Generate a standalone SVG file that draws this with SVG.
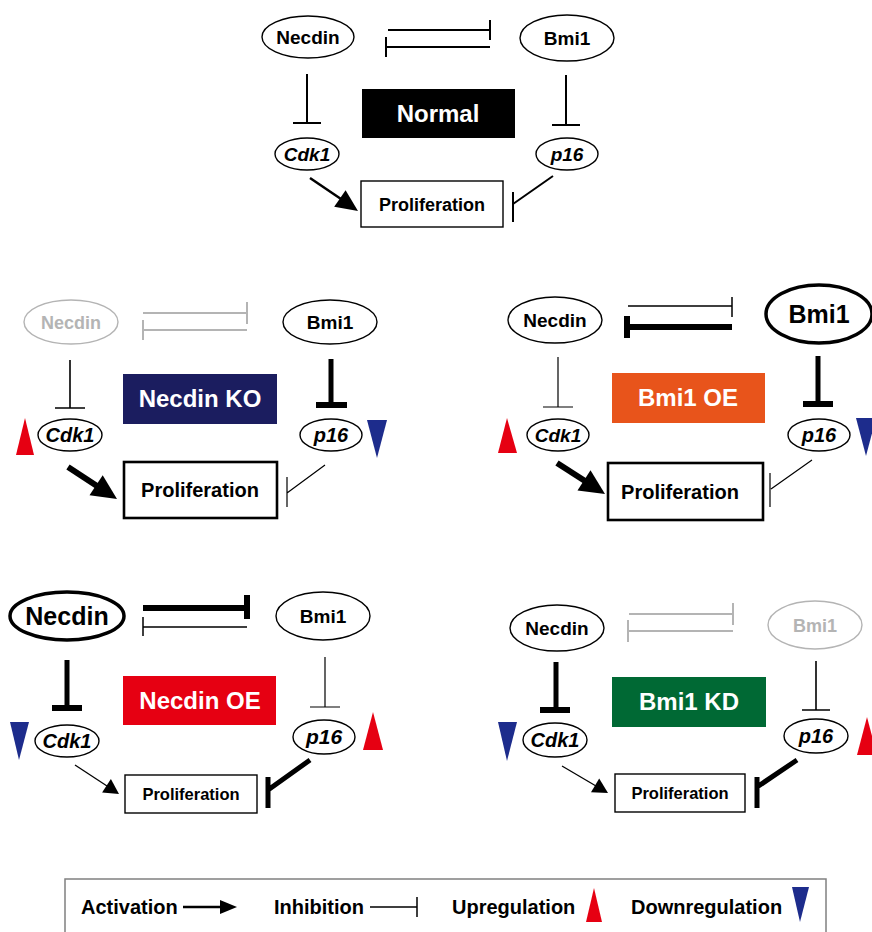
<svg xmlns="http://www.w3.org/2000/svg" width="872" height="932" viewBox="0 0 872 932">
<style>
text{font-family:"Liberation Sans",Arial,Helvetica,sans-serif;font-weight:bold;text-anchor:middle;fill:#000}
.n ellipse{fill:#fff;stroke:#000;stroke-width:1.4}
.n.big ellipse{stroke-width:3.5}
.n.grey ellipse{stroke:#b4b4b4}
.n.grey text{fill:#b4b4b4}
.gene text{font-style:italic}
.p rect{fill:#fff;stroke:#000;stroke-width:1.4}
.p.big rect{stroke-width:2.6}
.lab text{fill:#fff;font-size:24px}
.l{stroke:#000;fill:none;stroke-linecap:butt}
.w2{stroke-width:2}
.w1{stroke-width:1.2}
.w5{stroke-width:5}
.w6{stroke-width:6}
.g{stroke:#b4b4b4;stroke-width:2}
.ah{fill:#000}
.up{fill:#e60012}
.down{fill:#1d2c8c}
</style>

<!-- ================= NORMAL ================= -->
<g id="normal-necdin" class="n"><ellipse cx="308" cy="37" rx="46" ry="21"/><text x="308" y="44" font-size="19">Necdin</text></g>
<g id="normal-bmi1" class="n"><ellipse cx="567" cy="38" rx="47" ry="23"/><text x="567" y="45" font-size="19">Bmi1</text></g>
<g id="normal-label" class="lab"><rect x="362" y="89" width="153" height="49" fill="#000"/><text x="438" y="122">Normal</text></g>
<g id="normal-cdk1" class="n gene"><ellipse cx="307" cy="154" rx="32" ry="16"/><text x="307" y="161" font-size="19">Cdk1</text></g>
<g id="normal-p16" class="n gene"><ellipse cx="567" cy="154" rx="31" ry="16"/><text x="567" y="161" font-size="19">p16</text></g>
<g id="normal-prolif" class="p"><rect x="361" y="181" width="142" height="46"/><text x="432" y="211" font-size="18">Proliferation</text></g>
<g id="normal-connectors">
<path class="l w2" d="M388 30H490M490 20V40"/>
<path class="l w2" d="M490 47H386M386 37V57"/>
<path class="l w2" d="M307 74V123M293 123H321"/>
<path class="l w2" d="M566 75V125M552 125H580"/>
<path class="l" stroke-width="2.5" d="M310 178L341 199"/>
<polygon class="ah" points="358,211 334.2,206.7 345.6,190.3"/>
<path class="l w2" d="M553 176L513 204M513 192V222"/>
</g>

<!-- ================= NECDIN KO ================= -->
<g id="ko-necdin" class="n grey"><ellipse cx="71" cy="322" rx="47" ry="22"/><text x="71" y="329" font-size="18">Necdin</text></g>
<g id="ko-bmi1" class="n"><ellipse cx="330" cy="322" rx="47" ry="22"/><text x="330" y="329" font-size="19">Bmi1</text></g>
<g id="ko-label" class="lab"><rect x="123" y="374" width="154" height="50" fill="#1b1d5f"/><text x="200" y="407">Necdin KO</text></g>
<g id="ko-cdk1" class="n gene"><ellipse cx="70" cy="435" rx="32" ry="16"/><text x="70" y="442" font-size="20">Cdk1</text></g>
<g id="ko-p16" class="n gene"><ellipse cx="331" cy="435" rx="31" ry="16"/><text x="331" y="442" font-size="20">p16</text></g>
<g id="ko-prolif" class="p big"><rect x="124" y="462" width="153" height="56"/><text x="200" y="497" font-size="20">Proliferation</text></g>
<polygon id="ko-up" class="up" points="25,418 16,455 34,455"/>
<polygon id="ko-down" class="down" points="367,420 387,420 377,458"/>
<g id="ko-connectors">
<path class="l g" d="M143 313H247M247 302V324"/>
<path class="l g" d="M247 330H143M143 320V340"/>
<path class="l" stroke="#b4b4b4" stroke-width="1.6" d="M70 360V408M55 408H85"/>
<path class="l w5" d="M331 359V402"/>
<path class="l w6" d="M316 405H347"/>
<path class="l w6" d="M68 467L97 486"/>
<polygon class="ah" points="117,499 89.5,495.3 102.7,475.3"/>
<path class="l w1" d="M325 465L287 493M287 477V507"/>
</g>

<!-- ================= BMI1 OE ================= -->
<g id="oe-necdin" class="n"><ellipse cx="555" cy="320" rx="47" ry="23"/><text x="555" y="327" font-size="19">Necdin</text></g>
<g id="oe-bmi1" class="n big"><ellipse cx="819" cy="314" rx="53" ry="29"/><text x="819" y="323" font-size="25">Bmi1</text></g>
<g id="oe-label" class="lab"><rect x="612" y="373" width="153" height="50" fill="#e8541b"/><text x="688" y="406">Bmi1 OE</text></g>
<g id="oe-cdk1" class="n gene"><ellipse cx="558" cy="435" rx="31" ry="16"/><text x="558" y="442" font-size="19">Cdk1</text></g>
<g id="oe-p16" class="n gene"><ellipse cx="819" cy="435" rx="31" ry="16"/><text x="819" y="442" font-size="20">p16</text></g>
<g id="oe-prolif" class="p big"><rect x="608" y="463" width="155" height="57"/><text x="680" y="499" font-size="20">Proliferation</text></g>
<polygon id="oe-up" class="up" points="507,418 498,453 517,453"/>
<polygon id="oe-down" class="down" points="856,418 876,418 866,456"/>
<g id="oe-connectors">
<path class="l" stroke-width="1.5" d="M628 306H732M732 297V317"/>
<path class="l w6" d="M732 327H627M627 316V338"/>
<path class="l w1" d="M558 357V407M543 407H573"/>
<path class="l w5" d="M818 356V401"/>
<path class="l w6" d="M803 404H833"/>
<path class="l w6" d="M557 463L585 481"/>
<polygon class="ah" points="605,494 577.5,490.5 590.5,470.3"/>
<path class="l w1" d="M812 460L771 489M770 473V507"/>
</g>

<!-- ================= NECDIN OE ================= -->
<g id="noe-necdin" class="n big"><ellipse cx="67" cy="616" rx="57" ry="24"/><text x="67" y="625" font-size="25">Necdin</text></g>
<g id="noe-bmi1" class="n"><ellipse cx="323" cy="616" rx="47" ry="24"/><text x="323" y="623" font-size="19">Bmi1</text></g>
<g id="noe-label" class="lab"><rect x="123" y="676" width="153" height="49" fill="#e60012"/><text x="200" y="709">Necdin OE</text></g>
<g id="noe-cdk1" class="n gene"><ellipse cx="67" cy="741" rx="32" ry="16"/><text x="67" y="748" font-size="20">Cdk1</text></g>
<g id="noe-p16" class="n gene"><ellipse cx="324" cy="737" rx="31" ry="17"/><text x="324" y="744" font-size="21">p16</text></g>
<g id="noe-prolif" class="p"><rect x="125" y="775" width="132" height="38"/><text x="191" y="800" font-size="16.5">Proliferation</text></g>
<polygon id="noe-down" class="down" points="10,722 29,722 19,760"/>
<polygon id="noe-up" class="up" points="373,712 363,750 383,750"/>
<g id="noe-connectors">
<path class="l w6" d="M143 608H247"/>
<path class="l w6" d="M247 595V619"/>
<path class="l" stroke-width="1.5" d="M247 627H143M143 617V636"/>
<path class="l w5" d="M67 660V705"/>
<path class="l w6" d="M52 708H82"/>
<path class="l w1" d="M325 657V707M310 707H340"/>
<path class="l" stroke-width="1.3" d="M75 765L107 786"/>
<polygon class="ah" points="119,794 102.1,792.4 110.9,779.1"/>
<path class="l w5" d="M310 760L268 790M268 777V808"/>
</g>

<!-- ================= BMI1 KD ================= -->
<g id="kd-necdin" class="n"><ellipse cx="557" cy="628" rx="47" ry="23"/><text x="557" y="635" font-size="19">Necdin</text></g>
<g id="kd-bmi1" class="n grey"><ellipse cx="815" cy="625" rx="47" ry="24"/><text x="815" y="632" font-size="18">Bmi1</text></g>
<g id="kd-label" class="lab"><rect x="612" y="677" width="154" height="50" fill="#006934"/><text x="689" y="710">Bmi1 KD</text></g>
<g id="kd-cdk1" class="n gene"><ellipse cx="555" cy="740" rx="32" ry="17"/><text x="555" y="747" font-size="20">Cdk1</text></g>
<g id="kd-p16" class="n gene"><ellipse cx="816" cy="736" rx="32" ry="17"/><text x="816" y="743" font-size="20">p16</text></g>
<g id="kd-prolif" class="p"><rect x="615" y="774" width="130" height="38"/><text x="680" y="799" font-size="16.5">Proliferation</text></g>
<polygon id="kd-down" class="down" points="498,722 517,722 507,761"/>
<polygon id="kd-up" class="up" points="867,717 857,755 877,755"/>
<g id="kd-connectors">
<path class="l g" d="M629 614H733M733 603V625"/>
<path class="l g" d="M733 631H628M628 620V642"/>
<path class="l w5" d="M556 662V707"/>
<path class="l w6" d="M540 710H570"/>
<path class="l" stroke="#b4b4b4" stroke-width="1.6" d="M816 661V710M802 710H830"/>
<path class="l" stroke-width="1.3" d="M562 766L596 786"/>
<polygon class="ah" points="608,793 591,792.3 599.2,778.5"/>
<path class="l w5" d="M797 760L757 787M757 777V808"/>
</g>

<!-- ================= LEGEND ================= -->
<g id="legend">
<rect x="65" y="879" width="761" height="60" fill="none" stroke="#808080" stroke-width="1.5"/>
<text x="81" y="914" font-size="20" style="text-anchor:start">Activation</text>
<path class="l" stroke-width="2.5" d="M183 907H222"/>
<polygon class="ah" points="237,907 220,900 220,914"/>
<text x="274" y="914" font-size="20" style="text-anchor:start">Inhibition</text>
<path class="l" stroke-width="1.5" d="M370 907H417M417 897V917"/>
<text x="452" y="914" font-size="20" style="text-anchor:start">Upregulation</text>
<polygon class="up" points="594,888 586,922 602,922"/>
<text x="631" y="914" font-size="20" style="text-anchor:start">Downregulation</text>
<polygon class="down" points="792,887 809,887 800,922"/>
</g>
</svg>
